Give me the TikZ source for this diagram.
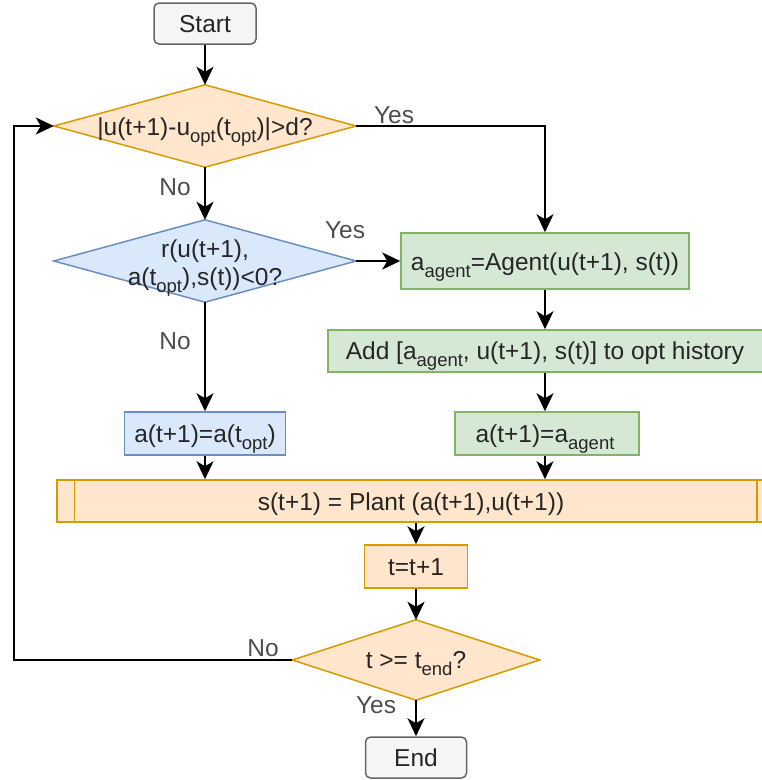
\documentclass[tikz,border=0pt]{standalone}
\usepackage{fontspec}
\setmainfont{Liberation Sans}
\usetikzlibrary{arrows.meta}
\definecolor{orfill}{HTML}{FFE6CC}\definecolor{ordraw}{HTML}{D79B00}
\definecolor{blfill}{HTML}{DAE8FC}\definecolor{bldraw}{HTML}{6C8EBF}
\definecolor{grfill}{HTML}{D5E8D4}\definecolor{grdraw}{HTML}{82B366}
\definecolor{gyfill}{HTML}{F5F5F5}\definecolor{gydraw}{HTML}{666666}
\definecolor{lbl}{HTML}{4D4D4D}
\newcommand\sbs[1]{\raisebox{-0.32em}{\fontsize{18.5}{18.5}\selectfont #1}}
\begin{document}
\begin{tikzpicture}[x=1pt,y=-1pt,
  every node/.style={font=\fontsize{24.5}{29}\selectfont, text=black!85},
  boxbase/.style={rectangle, line width=1.5pt, inner sep=0pt},
  term/.style={boxbase, rounded corners=5pt, fill=gyfill, draw=gydraw, minimum height=41pt},
  orbox/.style={boxbase, fill=orfill, draw=ordraw},
  blbox/.style={boxbase, fill=blfill, draw=bldraw},
  grbox/.style={boxbase, fill=grfill, draw=grdraw},
  dia/.style={rectangle, inner sep=0pt, align=center},
  txt/.style={anchor=base, inner sep=0pt},
  conn/.style={line width=1.8pt, -{Stealth[length=18pt,width=17pt,inset=5pt]}},
  lab/.style={text=lbl, inner sep=0pt}]
\useasboundingbox (0,0) rectangle (762,780);
% terminals
\node[term, minimum width=102pt] (start) at (205,23.5) {};
\node[txt] at (205,32.5) {Start};
\node[term, minimum width=101pt] (end) at (416,757.5) {};
\node[txt] at (416,766.5) {End};
% diamond 1
\node[dia, minimum width=302pt, minimum height=82pt] (d1) at (205,126) {};
\draw[line width=1.5pt, draw=ordraw, fill=orfill] (d1.west)--(d1.north)--(d1.east)--(d1.south)--cycle;
\node[txt] at (205,135) {|u(t+1)-u\sbs{opt}(t\sbs{opt})|>d?};
% diamond 2
\node[dia, minimum width=302pt, minimum height=82pt] (d2) at (205,261) {};
\draw[line width=1.5pt, draw=bldraw, fill=blfill] (d2.west)--(d2.north)--(d2.east)--(d2.south)--cycle;
\node[txt] at (205,257) {r(u(t+1),};
\node[txt] at (205,285) {a(t\sbs{opt}),s(t))<0?};
% diamond 3
\node[dia, minimum width=247pt, minimum height=80pt] (d3) at (416,660) {};
\draw[line width=1.5pt, draw=ordraw, fill=orfill] (d3.west)--(d3.north)--(d3.east)--(d3.south)--cycle;
\node[txt] at (416,668) {t >= t\sbs{end}?};
% green boxes
\node[grbox, minimum width=288pt, minimum height=56pt] (g1) at (545,261) {};
\node[txt] at (545,270) {a\sbs{agent}=Agent(u(t+1), s(t))};
\node[grbox, minimum width=436pt, minimum height=42pt] (g2) at (546,351) {};
\node[txt] at (545,359) {Add [a\sbs{agent}, u(t+1), s(t)] to opt history};
\node[grbox, minimum width=184pt, minimum height=43pt] (g3) at (547,433.5) {};
\node[txt] at (545,442) {a(t+1)=a\sbs{agent}};
% blue box
\node[blbox, minimum width=161pt, minimum height=43pt] (b1) at (205,433.5) {};
\node[txt] at (205,442) {a(t+1)=a(t\sbs{opt})};
% plant
\node[orbox, minimum width=717pt, minimum height=42pt] (pl) at (415.5,501) {};
\draw[line width=1.5pt, draw=ordraw] ([xshift=18pt]pl.north west)--([xshift=18pt]pl.south west);
\draw[line width=1.5pt, draw=ordraw] ([xshift=-18pt]pl.north east)--([xshift=-18pt]pl.south east);
\node[txt] at (411,510) {s(t+1) = Plant (a(t+1),u(t+1))};
% t=t+1
\node[orbox, minimum width=103pt, minimum height=43pt] (tt) at (416,566.5) {};
\node[txt] at (416,575.5) {t=t+1};
% coordinates
\coordinate (c1) at (545,126);
\coordinate (c2) at (14,660);
\coordinate (c3) at (14,126);
% connectors
\draw[conn] (start.south) -- (d1.north);
\draw[conn] (d1.east) -- (c1) -- (g1.north);
\draw[conn] (d1.south) -- (d2.north);
\draw[conn] (d2.east) -- (g1.west);
\draw[conn] (d2.south) -- (b1.north);
\draw[conn] (g1.south) -- (g1.south |- g2.north);
\draw[conn] (g2.south -| g1.south) -- (g3.north -| g1.south);
\draw[conn] (b1.south) -- (b1.south |- pl.north);
\draw[conn] (g3.south -| g1.south) -- (pl.north -| g1.south);
\draw[conn] (pl.south -| tt.north) -- (tt.north);
\draw[conn] (tt.south) -- (d3.north);
\draw[conn] (d3.south) -- (end.north);
\draw[conn] (d3.west) -- (c2) -- (c3) -- (d1.west);
% labels
\node[lab] at (394,115) {Yes};
\node[lab] at (175,187) {No};
\node[lab] at (345,230) {Yes};
\node[lab] at (175,341) {No};
\node[lab] at (263,648) {No};
\node[lab] at (376,705) {Yes};
\end{tikzpicture}
\end{document}
